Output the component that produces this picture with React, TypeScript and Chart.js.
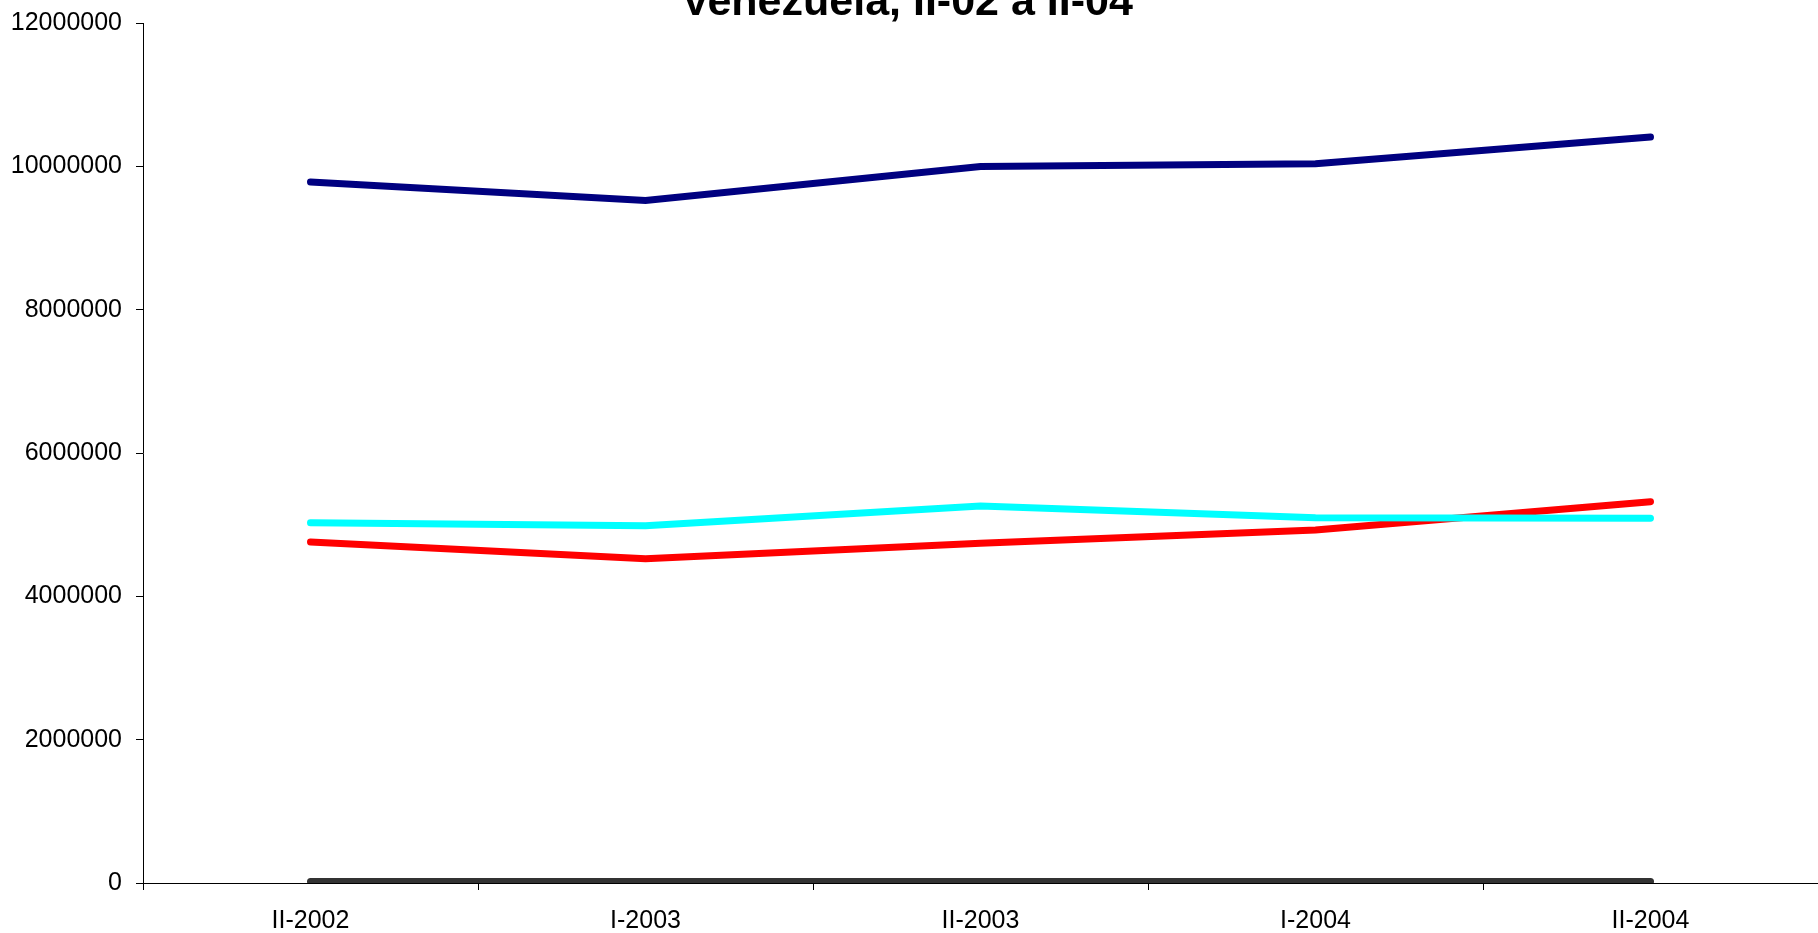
import React, { useEffect, useRef } from "react";
import { Chart, registerables } from "chart.js";

Chart.register(...registerables);

const TITLE = "Venezuela, II-02 a II-04";
const categories = ["II-2002", "I-2003", "II-2003", "I-2004", "II-2004"];
const totalSeries = [9782000, 9525000, 9998000, 10035000, 10410000];
const cyanSeries = [5028000, 4986000, 5261000, 5098000, 5089000];
const redSeries = [4759000, 4526000, 4741000, 4926000, 5321000];
const graySeries = [20000, 20000, 20000, 20000, 20000];
const yTicks = [0, 2000000, 4000000, 6000000, 8000000, 10000000, 12000000];

const FONT = "'Liberation Sans', Arial, sans-serif";
const W = 1818;
const H = 933;

const titlePlugin = {
  id: "clippedTitle",
  afterDraw(chart: any) {
    const ctx = chart.ctx;
    ctx.save();
    ctx.font = `bold 43px ${FONT}`;
    ctx.fillStyle = "#000";
    ctx.textAlign = "center";
    ctx.textBaseline = "alphabetic";
    ctx.fillText(TITLE, 907, 15);
    ctx.restore();
  },
};

export default function App() {
  const ref = useRef<HTMLCanvasElement | null>(null);

  useEffect(() => {
    document.body.style.margin = "0";
    const canvas = ref.current;
    if (!canvas) return;
    const chart = new Chart(canvas, {
      type: "line",
      data: {
        labels: categories,
        datasets: [
          { label: "Total", data: totalSeries, borderColor: "#000080", backgroundColor: "#000080" },
          { label: "Serie 2", data: cyanSeries, borderColor: "#00FFFF", backgroundColor: "#00FFFF" },
          { label: "Serie 3", data: redSeries, borderColor: "#FF0000", backgroundColor: "#FF0000" },
          { label: "Serie 4", data: graySeries, borderColor: "#333333", backgroundColor: "#333333" },
        ].map((d) => ({
          ...d,
          borderWidth: 7,
          pointRadius: 0,
          pointHoverRadius: 0,
          tension: 0,
          fill: false,
          borderCapStyle: "round" as const,
          borderJoinStyle: "miter" as const,
        })),
      },
      plugins: [titlePlugin],
      options: {
        animation: false,
        responsive: false,
        devicePixelRatio: 1,
        layout: { autoPadding: false, padding: { top: 23, right: -5, bottom: 0, left: 0 } },
        plugins: {
          legend: { display: false },
          title: { display: false },
          tooltip: { enabled: false },
        },
        scales: {
          x: {
            type: "category",
            offset: true,
            grid: {
              offset: true,
              drawOnChartArea: false,
              drawTicks: true,
              tickLength: 7,
              color: "#000",
              lineWidth: 1,
            },
            border: { display: true, color: "#000", width: 1 },
            ticks: {
              color: "#000",
              font: { family: FONT, size: 25 },
              padding: 16,
              maxRotation: 0,
              autoSkip: false,
            },
            afterFit: (scale: any) => {
              scale.height = 50;
              scale.paddingLeft = 0;
              scale.paddingRight = 0;
            },
          },
          y: {
            min: 0,
            max: 12000000,
            afterBuildTicks: (scale: any) => {
              scale.ticks = yTicks.map((v) => ({ value: v }));
            },
            grid: {
              drawOnChartArea: false,
              drawTicks: true,
              tickLength: 7,
              color: "#000",
              lineWidth: 1,
            },
            border: { display: true, color: "#000", width: 1 },
            ticks: {
              color: "#000",
              font: { family: FONT, size: 25 },
              padding: 14,
              callback: (v: any) => String(v),
            },
            afterFit: (scale: any) => {
              scale.width = 143;
              scale.paddingTop = 0;
              scale.paddingBottom = 0;
            },
          },
        },
      },
    });
    return () => chart.destroy();
  }, []);

  return (
    <div style={{ position: "fixed", left: 0, top: 0, width: W, height: H, overflow: "hidden", background: "#fff" }}>
      <canvas ref={ref} width={W} height={H} style={{ display: "block" }} />
    </div>
  );
}
